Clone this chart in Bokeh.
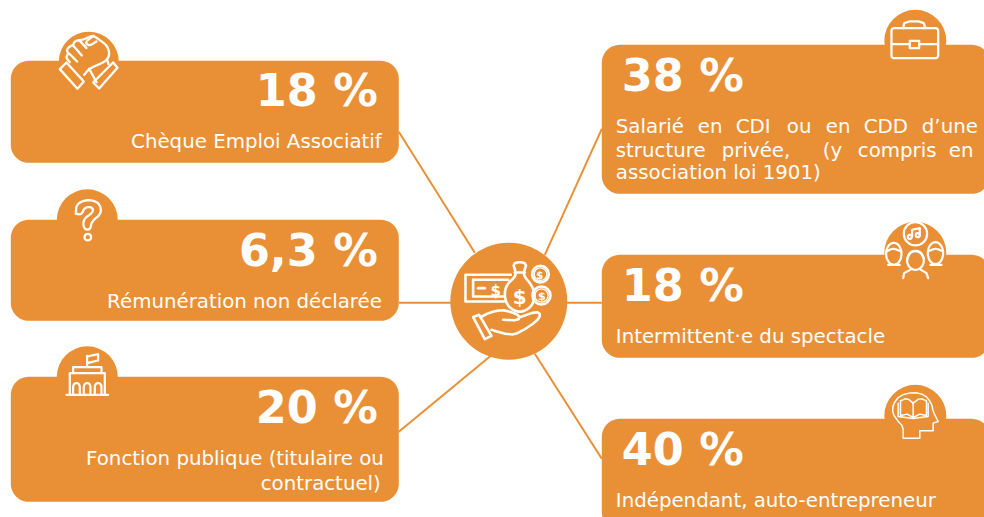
import math
from bokeh.plotting import figure
from bokeh.models import Range1d
from bokeh.core.properties import value
from bokeh.embed import file_html
from bokeh.resources import INLINE

# ---------- content ----------
left_values = [18, 6.3, 20]
left_labels = [["Chèque Emploi Associatif"], ["Rémunération non déclarée"],
               ["Fonction publique (titulaire ou", "contractuel)"]]
right_values = [38, 18, 40]
right_labels = [["Salarié en CDI ou en CDD d’une", "structure privée,  (y compris en", "association loi 1901)"],
                ["Intermittent·e du spectacle"], ["Indépendant, auto-entrepreneur"]]

ORANGE = "#E99036"
FONT = value("DejaVu Sans")


def pct(v):
    return f"{v:g}".replace(".", ",") + " %"


p = figure(width=984, height=517, x_range=Range1d(0.7, 984.7), y_range=Range1d(517.7, 0.7),
           output_backend="svg", toolbar_location=None, min_border=0,
           margin=(0, 0, 0, 0), outline_line_color=None, background_fill_color="white")
p.xaxis.visible = False
p.yaxis.visible = False
p.grid.visible = False


def rrect(x0, y0, x1, y1, r):
    xs, ys = [], []
    for cx, cy, a0 in [(x1 - r, y0 + r, -90), (x1 - r, y1 - r, 0), (x0 + r, y1 - r, 90), (x0 + r, y0 + r, 180)]:
        for i in range(13):
            a = math.radians(a0 + i * 7.5)
            xs.append(cx + r * math.cos(a))
            ys.append(cy + r * math.sin(a))
    return xs, ys


def smooth(pts, closed=False, n=2):
    for _ in range(n):
        out = []
        m = len(pts)
        rng = range(m if closed else m - 1)
        if not closed:
            out.append(pts[0])
        for i in rng:
            a, b = pts[i], pts[(i + 1) % m]
            out.append((0.75 * a[0] + 0.25 * b[0], 0.75 * a[1] + 0.25 * b[1]))
            out.append((0.25 * a[0] + 0.75 * b[0], 0.25 * a[1] + 0.75 * b[1]))
        if not closed:
            out.append(pts[-1])
        pts = out
    return pts


def oval(cx, cy, rx, ry):
    return [(cx + rx * math.cos(i * math.pi / 18), cy + ry * math.sin(i * math.pi / 18)) for i in range(37)]


# connectors
for (x0, y0, x1, y1) in [(399, 132, 475, 253), (399, 303, 455, 303), (399, 432, 491, 356),
                         (602, 129, 545, 255), (563, 303, 602, 303), (535, 354, 602, 459)]:
    p.line([x0, x1], [y0, y1], line_color=ORANGE, line_width=2)

# cards
for box in [(11, 61, 399, 163), (11, 220, 399, 321), (11, 377, 399, 502),
            (602, 45, 990, 194), (602, 255, 990, 358), (602, 419, 990, 530)]:
    xs, ys = rrect(*box, 18)
    p.patch(xs, ys, fill_color=ORANGE, line_color=None)

# tabs and central disc (radii in data = screen px)
for cx, cy, r in [(89, 62, 30), (87.5, 220, 30.5), (87.5, 377, 30.5), (915.5, 41, 31),
                  (915.5, 253, 31), (915.5, 416, 31), (509, 301.5, 58.5)]:
    p.circle([cx], [cy], radius=r, fill_color=ORANGE, line_color=None)


def icon(ox, oy, paths, circles=(), width=2.0):
    for pts in paths:
        p.line([ox + a / 3 for a, _ in pts], [oy + b / 3 for _, b in pts],
               line_color="white", line_width=width, line_join="round", line_cap="round")
    for cx, cy, r in circles:
        p.circle([ox + cx / 3], [oy + cy / 3], radius=r / 3, fill_color=None,
                 line_color="white", line_width=width)


# handshake
icon(50, 25, [
    [(30, 133), (50, 113), (102, 170), (83, 192), (30, 133)],
    [(190, 113), (203, 129), (148, 191), (130, 173), (190, 113)],
    smooth([(60, 112), (48, 98), (56, 86), (50, 76), (60, 64), (70, 62), (74, 50), (88, 46), (102, 44), (118, 36),
            (132, 33), (150, 46), (172, 62), (180, 88), (170, 108), (145, 120), (118, 132), (103, 150)]),
    [(58, 86), (82, 110)], [(70, 62), (96, 92)], [(88, 46), (110, 70)],
    smooth([(132, 33), (105, 52), (118, 64), (140, 50)]),
    smooth([(118, 132), (128, 150), (140, 172)]),
    smooth([(172, 104), (176, 118)]),
], width=2.3)
# question mark
icon(0, 20, [
    smooth([(228, 582), (230, 552), (265, 538), (300, 550), (305, 582), (275, 605), (272, 630), (252, 628),
            (250, 598), (280, 578), (278, 562), (255, 562), (245, 585), (228, 582)], closed=False),
], circles=[(264, 652, 10)], width=2.3)
# building
icon(40, 340, [
    [(80, 165), (205, 165)], [(90, 165), (90, 100), (195, 100), (195, 165)],
    [(100, 100), (100, 82), (185, 82), (185, 100)], [(142, 82), (142, 48)],
    [(142, 50), (175, 43), (175, 62), (142, 70)],
    smooth([(100, 160), (100, 130), (120, 130), (120, 160)]),
    smooth([(132, 160), (132, 130), (152, 130), (152, 160)]),
    smooth([(165, 160), (165, 130), (185, 130), (185, 160)]),
], width=2.2)
# briefcase
bx, by = rrect(95, 85, 235, 175, 8)
icon(860, 0, [
    list(zip(bx, by)) + [(bx[0], by[0])],
    smooth([(130, 85), (135, 65), (190, 65), (197, 85)], n=1),
    [(95, 133), (150, 133)], [(178, 133), (235, 133)],
    [(150, 123), (178, 123), (178, 145), (150, 145), (150, 123)],
], width=2.3)
# musicians
icon(870, 210, [
    [(127, 80), (127, 60), (150, 55), (150, 76)],
    [(100, 205), (103, 190), (125, 178)], [(150, 178), (170, 190), (175, 205)],
    [(55, 165), (90, 165)], [(182, 165), (215, 165)],
    oval(72, 132, 23, 33), oval(137, 152, 25, 28), oval(197, 130, 23, 33),
    smooth([(113, 148), (120, 125), (150, 122), (162, 145)]),
    smooth([(50, 125), (70, 115), (94, 125)]), smooth([(175, 125), (197, 115), (220, 125)]),
], circles=[(137, 72, 35), (120, 81, 6), (144, 76, 6)], width=2.2)
# head with book
icon(870, 375, [
    smooth([(100, 190), (100, 155), (85, 140), (68, 115), (70, 88), (90, 62), (130, 52), (165, 60), (185, 85),
            (190, 110), (205, 140)], n=1) + [(190, 145), (190, 168), (150, 168), (150, 190), (100, 190)],
    [(85, 85), (85, 125), (130, 131), (175, 125), (175, 85)],
    smooth([(92, 78), (112, 70), (130, 85)], n=1) + [(130, 128)],
    [(92, 78), (92, 122), (112, 118), (130, 128)],
    smooth([(130, 85), (150, 70), (170, 78)], n=1), [(170, 78), (170, 122), (150, 118), (130, 128)],
], width=1.5)
# money hand
bag = [(228, 130), (225, 142), (200, 165), (193, 197), (205, 232), (240, 250), (275, 232), (287, 197), (275, 165),
       (255, 142), (252, 130)]
icon(440, 230, [
    [(213, 135), (77, 135), (77, 215), (195, 215)],
    [(100, 150), (205, 150)], [(100, 150), (100, 200), (190, 200)], [(115, 175), (135, 175)],
    smooth(bag, n=2), [(225, 128), (255, 128)],
    smooth([(226, 122), (220, 102), (240, 96), (260, 102), (254, 122)], n=1),
    [(100, 262), (118, 255), (155, 318), (135, 328), (100, 262)],
    smooth([(122, 262), (150, 248), (185, 240), (215, 247), (240, 258), (235, 272), (190, 270)], n=1),
    smooth([(240, 262), (290, 245), (303, 255), (290, 275), (240, 308), (210, 316), (155, 300)], n=1),
], circles=[(302, 133, 25), (305, 197, 27)], width=2.6)
icon(440, 230, [], circles=[(302, 133, 19), (305, 197, 20)], width=1.3)


def txt(x, y, s, size, bold=False, align="left", color="white"):
    p.text([x], [y - 0.36 * size + 0.7], text=[s], text_font=FONT, text_font_size=f"{size}px",
           text_font_style="bold" if bold else "normal", text_align=align,
           text_baseline="alphabetic", text_color=color)


# $ signs on central icon
for sx, sy, size in [(496, 296, 15), (520, 304, 20), (540, 279, 10), (542, 300, 11)]:
    txt(sx, sy, "$", size, bold=True, align="center")

# left cards
for v, y in zip(left_values, [106, 266, 423]):
    txt(378, y, pct(v), 44.5, bold=True, align="right")
for lines, ys, xs in zip(left_labels, [[148], [308], [465, 490]], [[382], [382], [384, 381]]):
    for s, y, x in zip(lines, ys, xs):
        txt(x, y, s, 19.8, align="right")

# right cards
for v, y in zip(right_values, [91, 301, 465]):
    txt(622, y, pct(v), 44.5, bold=True)

# justified lines of the first right card: each word placed on its own
for line, y, word_x in [(right_labels[0][0], 133, [616, 698, 736, 787, 826, 864, 922]),
                        (right_labels[0][1], 157, [616, 722, 823, 858, 949])]:
    for w, x in zip(line.split(), word_x):
        txt(x, y, w, 19.8)
txt(616, 179, right_labels[0][2], 19.8)
txt(616, 343, right_labels[1][0], 19.8)
txt(616, 507, right_labels[2][0], 19.8)

open("out.html", "w").write(file_html(p, INLINE))
